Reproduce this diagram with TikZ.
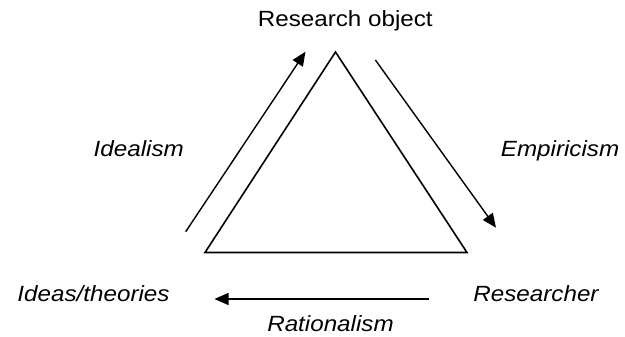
\documentclass[tikz,border=0pt]{standalone}
\usepackage{fontspec}
\setmainfont{Liberation Sans}[FakeStretch=1.1]
\usetikzlibrary{arrows.meta}
\begin{document}
\begin{tikzpicture}[x=1pt,y=-1pt,
  lbl/.style={font=\fontsize{22}{25}\selectfont, inner sep=0pt, anchor=base},
  ilbl/.style={lbl, font=\fontsize{22}{25}\selectfont\itshape},
  tri/.style={line width=1.6pt, line join=miter},
  arr/.style={line width=1.4pt, -{Triangle[length=14pt,width=12pt]}}]
\useasboundingbox (0,0) rectangle (625,337);
\fill[white] (0,0) rectangle (625,337);
% triangle
\coordinate (top) at (335.5,52);
\coordinate (bl) at (205,252.5);
\coordinate (br) at (467,252.5);
\draw[tri] (top) -- (br) -- (bl) -- cycle;
% labels
\node[lbl] (obj) at (345.3,26.7) {Research object};
\node[ilbl] (ideal) at (138.8,156.7) {Idealism};
\node[ilbl, anchor=base west] (emp) at (500.7,156.7) {Empiricism};
\node[ilbl] (ideas) at (93.5,301.7) {Ideas/theories};
\node[ilbl] (res) at (536,301.7) {Researcher};
\node[ilbl] (rat) at (330.5,331.7) {Rationalism};
% arrows
\coordinate (i1) at (185.7,231.7);
\coordinate (i2) at (305.5,51.7);
\coordinate (e1) at (375.4,60);
\coordinate (e2) at (496,227.7);
\coordinate (r1) at (429.3,299);
\coordinate (r2) at (214.5,299);
\draw[arr] (i1) -- (i2);
\draw[arr] (e1) -- (e2);
\draw[arr] (r1) -- (r2);
\end{tikzpicture}
\end{document}
